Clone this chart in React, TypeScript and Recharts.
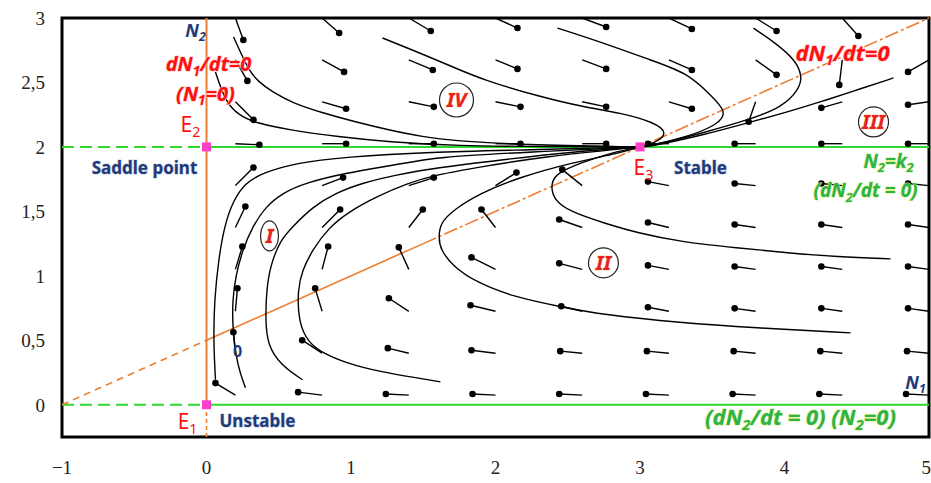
import { ComposedChart, XAxis, YAxis, Line, Scatter, ReferenceLine, ReferenceDot, ReferenceArea } from 'recharts';

const xTicks = [-1, 0, 1, 2, 3, 4, 5];
const yTicks = [0, 0.5, 1, 1.5, 2, 2.5, 3];

// arrow grid (tail positions) of the direction field
const fieldX = [0.2, 0.8, 1.4, 2.0, 2.6, 3.2, 3.8, 4.4, 5.0];
const fieldY = [0.075, 0.4, 0.725, 1.05, 1.375, 1.7, 2.025, 2.35, 2.675, 3.0];

// arrow offsets, one row per fieldY value
const fieldDx = [
  [-0.138, -0.166, -0.159, -0.159, -0.159, -0.159, -0.159, -0.159, -0.159],
  [-0.014, -0.138, -0.145, -0.166, -0.152, -0.152, -0.152, -0.152, -0.152],
  [0.014, -0.048, -0.138, -0.173, -0.145, -0.145, -0.145, -0.145, -0.145],
  [0.048, 0.042, -0.069, -0.166, -0.159, -0.145, -0.145, -0.145, -0.145],
  [0.069, 0.125, 0.097, -0.097, -0.159, -0.145, -0.145, -0.145, -0.145],
  [0.125, 0.145, 0.173, 0.145, -0.138, -0.145, -0.145, -0.145, -0.145],
  [0.166, 0.166, 0.173, 0.173, 0.166, -0.145, -0.145, -0.145, -0.145],
  [0.125, 0.166, 0.173, 0.173, 0.166, 0.159, -0.048, -0.145, -0.145],
  [0.083, 0.152, 0.166, 0.152, 0.166, 0.159, 0.145, -0.021, -0.145],
  [0.055, 0.118, 0.152, 0.152, 0.166, 0.159, 0.145, 0.111, null],
];
const fieldDy = [
  [0.093, 0.023, 0.008, 0.008, 0.008, 0.008, 0.008, 0.008, 0.008],
  [0.163, 0.101, 0.039, 0.023, 0.016, 0.016, 0.016, 0.016, 0.016],
  [0.178, 0.178, 0.101, 0.047, 0.039, 0.031, 0.023, 0.023, 0.023],
  [0.178, 0.178, 0.171, 0.093, 0.047, 0.031, 0.023, 0.023, 0.023],
  [0.163, 0.14, 0.14, 0.14, 0.062, 0.039, 0.023, 0.023, 0.023],
  [0.14, 0.062, 0.062, 0.101, 0.124, 0.031, 0.016, 0.016, 0.016],
  [-0.008, 0, 0, 0, 0, 0, 0, 0, 0],
  [-0.14, -0.054, -0.039, -0.039, -0.039, -0.054, -0.155, -0.047, -0.023],
  [-0.163, -0.093, -0.078, -0.07, -0.07, -0.078, -0.116, -0.194, -0.093],
  [-0.171, -0.116, -0.101, -0.078, -0.07, -0.085, -0.101, -0.14, null],
];

// solution curves (N1, N2)
const trajB = [[0.187, 2.853], [0.235, 2.736], [0.291, 2.597], [0.36, 2.504], [0.457, 2.426], [0.595, 2.341], [0.803, 2.264], [1.031, 2.194], [1.26, 2.132], [1.495, 2.078], [1.723, 2.047], [2.173, 2.016], [3, 2]];
const trajB2 = [[0.062, 2.581], [0.131, 2.349], [0.221, 2.248], [0.339, 2.186], [0.567, 2.132], [0.913, 2.078], [1.26, 2.039], [1.723, 2.008], [2.381, 2.003], [3, 2]];
const trajC = [[1.218, 2.845], [1.426, 2.752], [1.723, 2.612], [1.917, 2.519], [2.311, 2.388], [2.609, 2.31], [2.865, 2.264], [3.093, 2.194], [3.197, 2.109], [3.107, 2.031], [3, 2]];
const trajD = [[2.429, 2.922], [2.727, 2.814], [3.073, 2.674], [3.329, 2.574], [3.488, 2.403], [3.606, 2.271], [3.536, 2.171], [3.329, 2.078], [3.055, 2.006], [3, 2]];
const trajE = [[3.785, 2.922], [3.938, 2.806], [4.076, 2.674], [4.125, 2.543], [4.097, 2.442], [3.986, 2.31], [3.751, 2.209], [3.433, 2.109], [3.197, 2.039], [3, 2]];
const trajF = [[4.754, 2.535], [4.457, 2.426], [4.249, 2.349], [4.021, 2.271], [3.744, 2.186], [3.439, 2.093], [3.093, 2.008], [3, 2]];
const trajJ1 = [[0.062, 0.194], [0.048, 0.504], [0.055, 0.814], [0.083, 1.124], [0.125, 1.395], [0.187, 1.589], [0.27, 1.721], [0.388, 1.798], [0.616, 1.876], [0.962, 1.922], [1.536, 1.961], [2.242, 1.977], [3, 2]];
const trajJ2 = [[0.27, 0.132], [0.215, 0.295], [0.18, 0.581], [0.18, 0.814], [0.201, 0.992], [0.249, 1.202], [0.318, 1.38], [0.408, 1.535], [0.526, 1.643], [0.685, 1.721], [0.962, 1.798], [1.308, 1.86], [1.585, 1.922], [2.242, 1.961], [3, 2]];
const trajJ3 = [[0.664, 0.194], [0.512, 0.31], [0.422, 0.465], [0.408, 0.659], [0.415, 0.891], [0.443, 1.085], [0.512, 1.279], [0.595, 1.38], [0.734, 1.535], [0.893, 1.643], [1.08, 1.721], [1.308, 1.783], [1.585, 1.837], [2.035, 1.899], [2.519, 1.961], [3, 2]];
const trajJ4 = [[1.619, 0.178], [1.19, 0.256], [0.962, 0.326], [0.803, 0.403], [0.706, 0.481], [0.637, 0.636], [0.63, 0.891], [0.664, 1.047], [0.734, 1.202], [0.844, 1.372], [0.983, 1.496], [1.17, 1.612], [1.398, 1.721], [1.585, 1.783], [1.896, 1.845], [2.311, 1.922], [3, 2]];
const trajK1 = [[4.457, 0.558], [3.785, 0.597], [3.28, 0.636], [2.747, 0.698], [2.45, 0.76], [2.125, 0.837], [1.875, 0.946], [1.709, 1.07], [1.619, 1.202], [1.606, 1.302], [1.619, 1.411], [1.709, 1.512], [1.896, 1.643], [2.173, 1.767], [2.519, 1.876], [2.865, 1.953], [3, 2]];
const trajK2 = [[4.734, 1.132], [4.367, 1.147], [4.021, 1.178], [3.675, 1.217], [3.28, 1.264], [2.983, 1.333], [2.747, 1.411], [2.519, 1.496], [2.401, 1.589], [2.381, 1.721], [2.429, 1.798], [2.588, 1.876], [2.796, 1.953], [3, 2]];

const trajectories = [trajB, trajB2, trajC, trajD, trajE, trajF, trajJ1, trajJ2, trajJ3, trajJ4, trajK1, trajK2];

// equilibria and nullcline ends
const equilibria = [[0, 0], [0, 2], [3, 2]];
const n1Nullcline = [[-1, 0], [0, 0.5], [1.5, 1.25], [5, 3]];

const arrows = fieldY
  .flatMap((y, r) => fieldX.map((x, c) => ({ x, y, dx: fieldDx[r][c], dy: fieldDy[r][c] })))
  .filter((a) => a.dx !== null && a.dy !== null) as { x: number; y: number; dx: number; dy: number }[];
const heads = arrows.map((a) => ({ x: a.x + a.dx, y: a.y + a.dy }));

const RED = '#FF1010';
const BLUE = '#1F3A78';
const GREEN = '#2DB34A';
const ORANGE = '#ED7D31';
const LINE_GREEN = '#2ED82E';
const PINK = '#FF3FC8';

type Part = string | [string];

function rich(parts: Part[], size: number) {
  let shifted = false;
  return parts.map((p, i) => {
    if (Array.isArray(p)) {
      shifted = true;
      return (
        <tspan key={i} dy={size * 0.22} fontSize={size * 0.68}>
          {p[0]}
        </tspan>
      );
    }
    const dy = shifted ? -size * 0.22 : 0;
    shifted = false;
    return (
      <tspan key={i} dy={dy}>
        {p}
      </tspan>
    );
  });
}

function note(
  key: string,
  x: number,
  y: number,
  parts: Part[],
  opts: { color: string; size: number; italic?: boolean; bold?: boolean; glow?: string; family?: string }
) {
  const { color, size, italic = true, bold = true, glow, family = 'Noto Sans' } = opts;
  return (
    <ReferenceDot
      key={key}
      x={x}
      y={y}
      r={0}
      ifOverflow="visible"
      shape={(p: any) => (
        <text
          x={p.cx}
          y={p.cy + size * 0.35}
          textAnchor="middle"
          fill={color}
          stroke={glow}
          strokeWidth={glow ? 1.2 : 0}
          paintOrder="stroke"
          fontFamily={family}
          fontSize={size}
          fontStyle={italic ? 'italic' : 'normal'}
          fontWeight={bold ? 700 : 400}
        >
          {rich(parts, size)}
        </text>
      )}
    />
  );
}

function region(key: string, x: number, y: number, label: string, rx: number, ry: number) {
  return (
    <ReferenceDot
      key={key}
      x={x}
      y={y}
      r={0}
      ifOverflow="visible"
      shape={(p: any) => (
        <g>
          <ellipse cx={p.cx} cy={p.cy} rx={rx} ry={ry} fill="none" stroke="#222" strokeWidth={1.2} />
          <text
            x={p.cx}
            y={p.cy + 7}
            textAnchor="middle"
            fill="#E8202A"
            stroke="#F6B030"
            strokeWidth={0.6}
            paintOrder="stroke"
            fontFamily="Noto Sans"
            fontStyle="italic"
            fontWeight={700}
            fontSize={20}
          >
            {label}
          </text>
        </g>
      )}
    />
  );
}

const fmtY = (v: number) => String(v).replace('.', ',');
const fmtX = (v: number) => (v < 0 ? `\u2212${Math.abs(v)}` : String(v));

export default function App() {
  return (
    <div style={{ position: 'absolute', left: 0, top: 0, background: '#fff' }}>
      <ComposedChart width={931} height={483} margin={{ top: 18, right: 2, bottom: 0, left: 0 }}>
        <XAxis
          dataKey="x"
          type="number"
          domain={[-1, 5]}
          ticks={xTicks}
          tickFormatter={fmtX}
          allowDataOverflow
          height={46}
          axisLine={false}
          tickLine={false}
          tickSize={0}
          tickMargin={24}
          tick={{ fill: '#222', fontSize: 19, fontFamily: 'Liberation Serif' }}
        />
        <YAxis
          dataKey="y"
          type="number"
          domain={[-0.25, 3]}
          ticks={yTicks}
          allowDataOverflow
          width={62}
          tickFormatter={fmtY}
          axisLine={false}
          tickLine={false}
          tickSize={0}
          tickMargin={17}
          tick={{ fill: '#222', fontSize: 19, fontFamily: 'Liberation Serif' }}
        />

        {/* nullclines */}
        <ReferenceLine segment={[{ x: -1, y: 2 }, { x: 0, y: 2 }]} stroke={LINE_GREEN} strokeWidth={2} strokeDasharray="12 6" />
        <ReferenceLine segment={[{ x: 0, y: 2 }, { x: 5, y: 2 }]} stroke={LINE_GREEN} strokeWidth={2} />
        <ReferenceLine segment={[{ x: -1, y: 0 }, { x: 0, y: 0 }]} stroke={LINE_GREEN} strokeWidth={2} strokeDasharray="12 6" />
        <ReferenceLine segment={[{ x: 0, y: 0 }, { x: 5, y: 0 }]} stroke={LINE_GREEN} strokeWidth={2} />
        <ReferenceLine segment={[{ x: 0, y: -0.25 }, { x: 0, y: 0 }]} stroke={ORANGE} strokeWidth={1.6} strokeDasharray="4 3" />
        <ReferenceLine segment={[{ x: 0, y: 0 }, { x: 0, y: 3 }]} stroke={ORANGE} strokeWidth={2} />
        <ReferenceLine
          segment={[{ x: n1Nullcline[0][0], y: n1Nullcline[0][1] }, { x: n1Nullcline[1][0], y: n1Nullcline[1][1] }]}
          stroke={ORANGE}
          strokeWidth={1.6}
          strokeDasharray="7 5"
        />
        <ReferenceLine
          segment={[{ x: n1Nullcline[1][0], y: n1Nullcline[1][1] }, { x: n1Nullcline[2][0], y: n1Nullcline[2][1] }]}
          stroke={ORANGE}
          strokeWidth={1.6}
        />
        <ReferenceLine
          segment={[{ x: n1Nullcline[2][0], y: n1Nullcline[2][1] }, { x: n1Nullcline[3][0], y: n1Nullcline[3][1] }]}
          stroke={ORANGE}
          strokeWidth={1.6}
          strokeDasharray="14 3 3 3"
        />

        {/* direction field shafts */}
        {arrows.map((a, i) => (
          <ReferenceLine
            key={`ar${i}`}
            segment={[{ x: a.x, y: a.y }, { x: a.x + a.dx, y: a.y + a.dy }]}
            stroke="#000"
            strokeWidth={1.4}
            ifOverflow="hidden"
          />
        ))}

        {trajectories.map((t, i) => (
          <Line
            key={`t${i}`}
            data={t.map(([x, y]) => ({ x, y }))}
            dataKey="y"
            type="basis"
            stroke="#000"
            strokeWidth={1.4}
            dot={false}
            activeDot={false}
            isAnimationActive={false}
          />
        ))}

        <Scatter
          data={heads}
          dataKey="y"
          isAnimationActive={false}
          shape={(p: any) => <circle cx={p.cx} cy={p.cy} r={3.3} fill="#000" />}
        />

        {/* plot frame */}
        <ReferenceArea
          x1={-1}
          x2={5}
          y1={-0.25}
          y2={3}
          fill="none"
          stroke="#000"
          strokeWidth={3}
          ifOverflow="visible"
        />

        {equilibria.map(([x, y], i) => (
          <ReferenceDot
            key={`eq${i}`}
            x={x}
            y={y}
            r={0}
            ifOverflow="visible"
            shape={(p: any) => <rect x={p.cx - 4.5} y={p.cy - 4.5} width={9} height={9} fill={PINK} />}
          />
        ))}

        {region('rIV', 1.73, 2.364, 'IV', 17, 17)}
        {region('rI', 0.436, 1.31, 'I', 9, 15)}
        {region('rII', 2.747, 1.101, 'II', 15, 15)}
        {region('rIII', 4.616, 2.194, 'III', 15, 15)}

        {note('n2', -0.076, 2.899, ['N', ['2']], { color: BLUE, size: 18 })}
        {note('nc1', 0.014, 2.64, ['dN', ['1'], '/dt=0'], { color: RED, size: 20, glow: '#FFC8C8' })}
        {note('nc1b', -0.007, 2.41, ['(N', ['1'], '=0)'], { color: RED, size: 20, glow: '#FFC8C8' })}
        {note('e2', -0.111, 2.171, ['E', ['2']], { color: RED, size: 21, italic: false, bold: false })}
        {note('sp', -0.429, 1.837, ['Saddle point'], { color: BLUE, size: 17, italic: false, glow: '#C8D0E8' })}
        {note('e1', -0.131, -0.132, ['E', ['1']], { color: RED, size: 21, italic: false, bold: false })}
        {note('us', 0.353, -0.124, ['Unstable'], { color: BLUE, size: 17, italic: false, glow: '#C8D0E8' })}
        {note('e3', 3.024, 1.837, ['E', ['3']], { color: RED, size: 21, italic: false, bold: false })}
        {note('st', 3.419, 1.837, ['Stable'], { color: BLUE, size: 17, italic: false, glow: '#C8D0E8' })}
        {note('nc2', 4.401, 2.729, ['dN', ['1'], '/dt=0'], { color: RED, size: 22, glow: '#FFC8C8' })}
        {note('k2', 4.72, 1.89, ['N', ['2'], '=k', ['2']], { color: GREEN, size: 19, glow: '#DDF080' })}
        {note('k2b', 4.561, 1.66, ['(dN', ['2'], '/dt = 0)'], { color: GREEN, size: 19, glow: '#DDF080' })}
        {note('n1', 4.907, 0.171, ['N', ['1']], { color: BLUE, size: 18 })}
        {note('z2', 4.111, -0.101, ['(dN', ['2'], '/dt = 0) (N', ['2'], '=0)'], { color: GREEN, size: 22, glow: '#DDF080' })}
        {note('o', 0.215, 0.411, ['0'], { color: BLUE, size: 16, italic: false })}
      </ComposedChart>
    </div>
  );
}
